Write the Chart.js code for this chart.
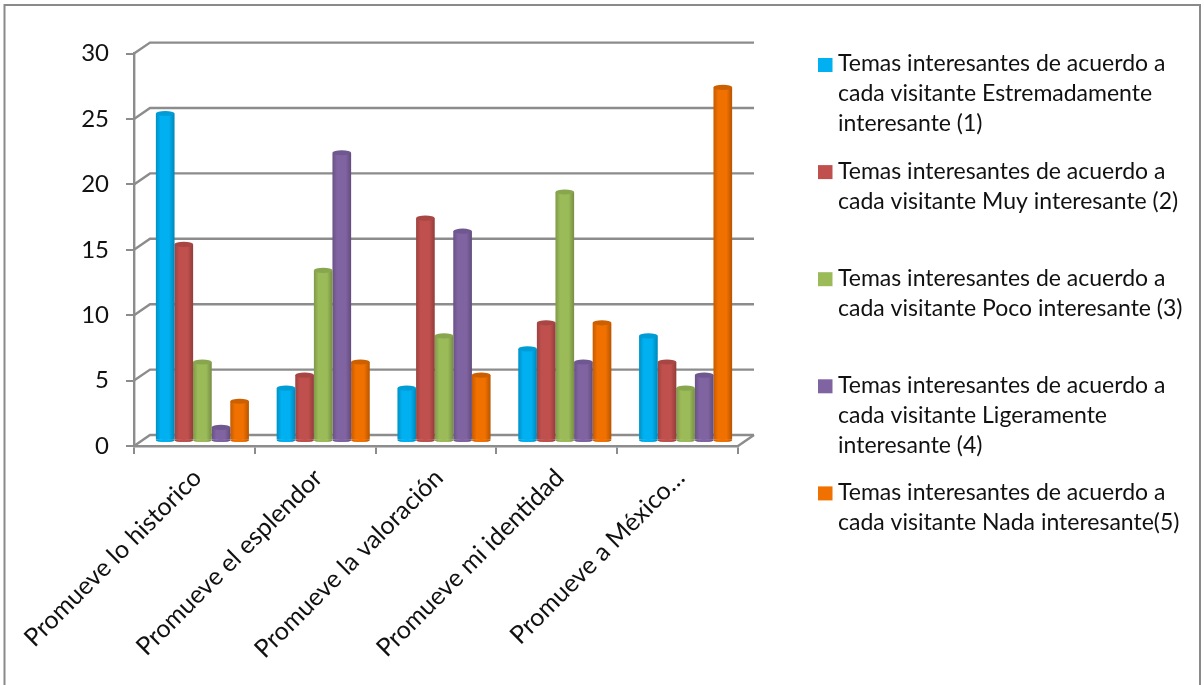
<!DOCTYPE html>
<html>
<head>
<meta charset="utf-8">
<style>
  html, body { margin: 0; padding: 0; background: #fff; }
  canvas { display: block; }
</style>
<script src="https://cdn.jsdelivr.net/npm/chart.js@4/dist/chart.umd.min.js"></script>
</head>
<body>
<canvas id="canvas" width="1204" height="685"></canvas>
<script>
var categories = ["Promueve lo historico", "Promueve el esplendor", "Promueve la valoración", "Promueve mi identidad", "Promueve a México…"];

// legend text, one entry per printed line
var names1 = ["Temas interesantes de acuerdo a", "cada visitante Estremadamente", "interesante (1)"];
var names2 = ["Temas interesantes de acuerdo a", "cada visitante Muy interesante (2)"];
var names3 = ["Temas interesantes de acuerdo a", "cada visitante Poco interesante (3)"];
var names4 = ["Temas interesantes de acuerdo a", "cada visitante Ligeramente", "interesante (4)"];
var names5 = ["Temas interesantes de acuerdo a", "cada visitante Nada interesante(5)"];

var values1 = [25, 4, 4, 7, 8];
var values2 = [15, 5, 17, 9, 6];
var values3 = [6, 13, 8, 19, 4];
var values4 = [1, 22, 16, 6, 5];
var values5 = [3, 6, 5, 9, 27];

var colors = ["#00B0F0", "#C0504D", "#9BBB59", "#8064A2", "#F07000"];
var capColors = ["#009CD6", "#A84643", "#88A64E", "#6F5790", "#CC6000"];

var yTicks = [0, 5, 10, 15, 20, 25, 30];

var gridColor = "#8C8C8C";
var fontName = "Lato";

// depth of the fake 3d box
var depthX = 16, depthY = 11;
// bars stand a little behind the front axis
var barShiftX = 8, barShiftY = -5.5;

function makeSet(lines, values, i) {
    return { label: lines.join(" "), lines: lines, data: values, backgroundColor: colors[i], borderWidth: 0 };
}

var depthPlugin = {
    id: "depth",
    beforeDraw: function (chart) {
        var c = chart.ctx;
        c.save();
        c.fillStyle = "#fff";
        c.fillRect(0, 0, chart.width, chart.height);
        // frame, the bottom edge is cut off in the picture
        c.strokeStyle = "#8A8A8A";
        c.lineWidth = 2;
        c.beginPath();
        c.moveTo(4.5, 685);
        c.lineTo(4.5, 5);
        c.lineTo(1200, 5);
        c.lineTo(1200, 685);
        c.stroke();
        c.restore();
    },
    beforeDatasetsDraw: function (chart) {
        var c = chart.ctx, y = chart.scales.y, x = chart.scales.x;
        c.save();
        c.strokeStyle = gridColor;
        c.lineWidth = 2.4;
        yTicks.forEach(function (t) {
            var py = y.getPixelForValue(t);
            c.beginPath();
            c.moveTo(x.left, py);
            c.lineTo(x.left + depthX, py - depthY);
            c.lineTo(x.right + depthX, py - depthY);
            c.stroke();
        });
        // floor edge on the right
        c.beginPath();
        c.moveTo(x.right, y.bottom);
        c.lineTo(x.right + depthX, y.bottom - depthY);
        c.stroke();
        c.restore();
        c.save();
        c.translate(barShiftX, barShiftY);
    },
    afterDatasetDraw: function (chart, args) {
        var c = chart.ctx, i = args.index;
        var base = chart.scales.y.getPixelForValue(0);
        args.meta.data.forEach(function (bar) {
            var w = bar.width, l = bar.x - w / 2, r = l + w;
            var g = c.createLinearGradient(l, 0, r, 0);
            g.addColorStop(0, "rgba(0,0,0,0.18)");
            g.addColorStop(0.25, "rgba(0,0,0,0)");
            g.addColorStop(0.7, "rgba(0,0,0,0)");
            g.addColorStop(1, "rgba(0,0,0,0.24)");
            // round bottom
            c.fillStyle = colors[i];
            c.beginPath();
            c.ellipse(bar.x, base, w / 2, 1.6, 0, 0, Math.PI * 2);
            c.fill();
            c.fillStyle = g;
            c.beginPath();
            c.moveTo(l, bar.y);
            c.lineTo(r, bar.y);
            c.lineTo(r, base);
            c.ellipse(bar.x, base, w / 2, 1.6, 0, 0, Math.PI);
            c.closePath();
            c.fill();
            // top cap
            c.fillStyle = capColors[i];
            c.beginPath();
            c.ellipse(bar.x, bar.y, w / 2, 2.6, 0, 0, Math.PI * 2);
            c.fill();
        });
    },
    afterDatasetsDraw: function (chart) {
        chart.ctx.restore();
    }
};

// series legend has equal steps whatever the line count, the built in one does not
var sideLegend = {
    id: "sideLegend",
    afterDraw: function (chart) {
        var c = chart.ctx;
        c.save();
        c.font = "23px " + fontName;
        c.textBaseline = "middle";
        c.textAlign = "left";
        chart.data.datasets.forEach(function (ds, i) {
            var top = 64 + i * 107.1;
            c.fillStyle = colors[i];
            c.fillRect(818, top - 6, 14.5, 14);
            c.fillStyle = "#111";
            ds.lines.forEach(function (line, n) {
                c.fillText(line, 838, top + n * 30);
            });
        });
        c.restore();
    }
};

var myChart = new Chart(document.getElementById("canvas"), {
    type: "bar",
    data: {
        labels: categories,
        datasets: [
            makeSet(names1, values1, 0),
            makeSet(names2, values2, 1),
            makeSet(names3, values3, 2),
            makeSet(names4, values4, 3),
            makeSet(names5, values5, 4)
        ]
    },
    options: {
        responsive: false,
        animation: false,
        layout: { padding: { left: 0, right: 466, top: 53.6, bottom: 0 } },
        plugins: { legend: { display: false }, tooltip: { enabled: false } },
        datasets: { bar: { categoryPercentage: 0.77, barPercentage: 1 } },
        scales: {
            x: {
                afterFit: function (s) { s.height = 239; },
                border: { color: gridColor, width: 2.4 },
                grid: { drawOnChartArea: false, color: gridColor, lineWidth: 2, tickLength: 8, offset: true },
                ticks: { color: "#111", font: { family: fontName, size: 25 }, autoSkip: false, minRotation: 45, maxRotation: 45, padding: 9, labelOffset: 3 }
            },
            y: {
                min: 0,
                max: 30,
                afterFit: function (s) { s.width = 134; },
                afterBuildTicks: function (s) { s.ticks = yTicks.map(function (v) { return { value: v }; }); },
                border: { color: gridColor, width: 2.4 },
                grid: { drawOnChartArea: false, color: gridColor, lineWidth: 2, tickLength: 8 },
                ticks: { color: "#111", font: { family: fontName, size: 24 }, padding: 17 }
            }
        }
    },
    plugins: [depthPlugin, sideLegend]
});
</script>
</body>
</html>
